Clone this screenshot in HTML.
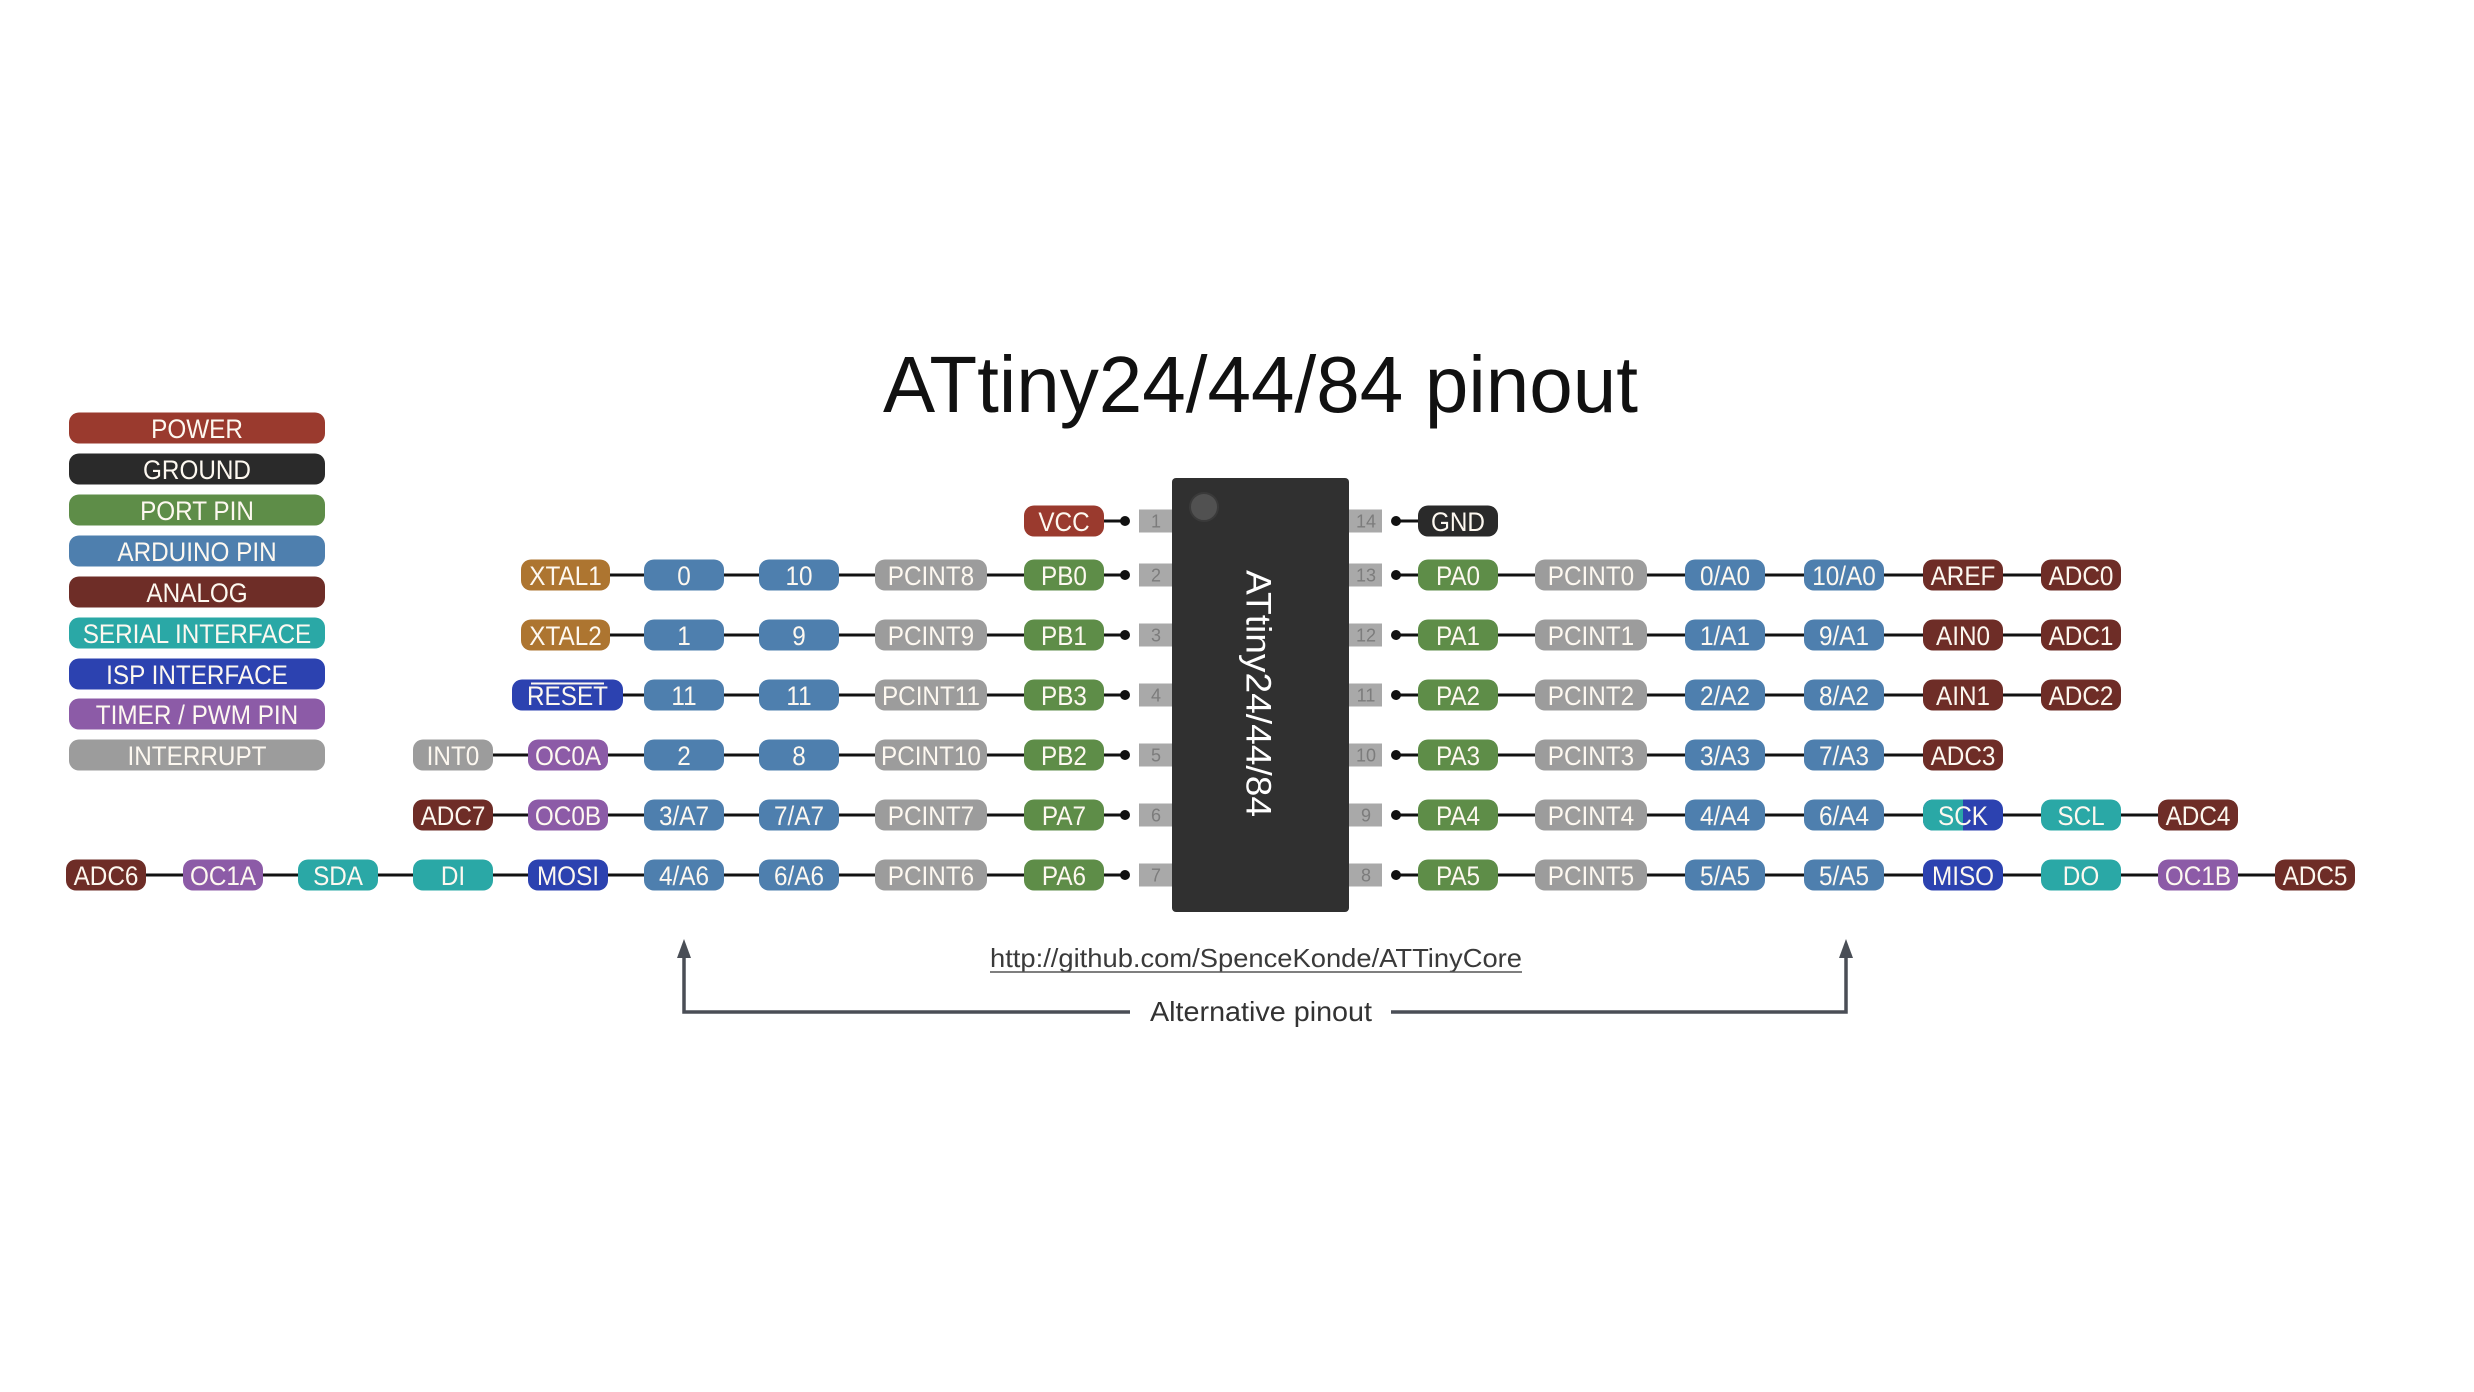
<!DOCTYPE html>
<html>
<head>
<meta charset="utf-8">
<style>
html,body{margin:0;padding:0;background:#fff;}
svg{display:block;}
.t{font-family:"Liberation Sans",Arial,sans-serif;font-size:27px;fill:#fdf8f0;text-anchor:middle;transform-box:fill-box;transform-origin:center;transform:scaleX(0.9);}
.n{font-family:"Liberation Sans",Arial,sans-serif;font-size:18px;fill:#7c7c7c;text-anchor:middle;}
.pw{fill:#9a3a2e}.gnd{fill:#2a2a2a}.port{fill:#5e8d48}.ard{fill:#4e7fae}.ana{fill:#6e2d27}
.ser{fill:#2aa8a6}.isp{fill:#2c42b0}.tim{fill:#8c5ba7}.int{fill:#9c9c9c}.xt{fill:#ad7530}
.ln{stroke:#111;stroke-width:3;}
.pb{fill:#a9a9a9}
</style>
</head>
<body>
<svg width="2474" height="1392" viewBox="0 0 2474 1392" xmlns="http://www.w3.org/2000/svg">
<defs>
<clipPath id="sckclip"><rect x="1900" y="790" width="63" height="50"/></clipPath>
</defs>

<!-- Title -->
<text x="1260.5" y="412" font-family="Liberation Sans, Arial, sans-serif" font-size="80" fill="#111" text-anchor="middle" textLength="755" lengthAdjust="spacingAndGlyphs">ATtiny24/44/84 pinout</text>

<!-- Legend -->
<rect class="pw" x="69" y="412.5" width="256" height="31" rx="10"/><text class="t" x="197" y="438">POWER</text>
<rect class="gnd" x="69" y="453.5" width="256" height="31" rx="10"/><text class="t" x="197" y="479">GROUND</text>
<rect class="port" x="69" y="494.5" width="256" height="31" rx="10"/><text class="t" x="197" y="520">PORT PIN</text>
<rect class="ard" x="69" y="535.5" width="256" height="31" rx="10"/><text class="t" x="197" y="561">ARDUINO PIN</text>
<rect class="ana" x="69" y="576.5" width="256" height="31" rx="10"/><text class="t" x="197" y="602">ANALOG</text>
<rect class="ser" x="69" y="617.5" width="256" height="31" rx="10"/><text class="t" x="197" y="643">SERIAL INTERFACE</text>
<rect class="isp" x="69" y="658.5" width="256" height="31" rx="10"/><text class="t" x="197" y="684">ISP INTERFACE</text>
<rect class="tim" x="69" y="698.5" width="256" height="31" rx="10"/><text class="t" x="197" y="724">TIMER / PWM PIN</text>
<rect class="int" x="69" y="739.5" width="256" height="31" rx="10"/><text class="t" x="197" y="765">INTERRUPT</text>

<!-- Connector lines -->
<line class="ln" x1="1064" y1="521" x2="1125" y2="521"/>
<line class="ln" x1="565" y1="575" x2="1125" y2="575"/>
<line class="ln" x1="565" y1="635" x2="1125" y2="635"/>
<line class="ln" x1="567" y1="695" x2="1125" y2="695"/>
<line class="ln" x1="453" y1="755" x2="1125" y2="755"/>
<line class="ln" x1="453" y1="815" x2="1125" y2="815"/>
<line class="ln" x1="106" y1="875" x2="1125" y2="875"/>

<line class="ln" x1="1396" y1="521" x2="1458" y2="521"/>
<line class="ln" x1="1396" y1="575" x2="2081" y2="575"/>
<line class="ln" x1="1396" y1="635" x2="2081" y2="635"/>
<line class="ln" x1="1396" y1="695" x2="2081" y2="695"/>
<line class="ln" x1="1396" y1="755" x2="1963" y2="755"/>
<line class="ln" x1="1396" y1="815" x2="2198" y2="815"/>
<line class="ln" x1="1396" y1="875" x2="2315" y2="875"/>

<!-- Dots -->
<g fill="#111">
<circle cx="1125" cy="521" r="5"/><circle cx="1125" cy="575" r="5"/><circle cx="1125" cy="635" r="5"/><circle cx="1125" cy="695" r="5"/><circle cx="1125" cy="755" r="5"/><circle cx="1125" cy="815" r="5"/><circle cx="1125" cy="875" r="5"/>
<circle cx="1396" cy="521" r="5"/><circle cx="1396" cy="575" r="5"/><circle cx="1396" cy="635" r="5"/><circle cx="1396" cy="695" r="5"/><circle cx="1396" cy="755" r="5"/><circle cx="1396" cy="815" r="5"/><circle cx="1396" cy="875" r="5"/>
</g>

<!-- Pin boxes -->
<rect class="pb" x="1139" y="509.5" width="34" height="23"/><text class="n" x="1156" y="527.5">1</text>
<rect class="pb" x="1139" y="563.5" width="34" height="23"/><text class="n" x="1156" y="581.5">2</text>
<rect class="pb" x="1139" y="623.5" width="34" height="23"/><text class="n" x="1156" y="641.5">3</text>
<rect class="pb" x="1139" y="683.5" width="34" height="23"/><text class="n" x="1156" y="701.5">4</text>
<rect class="pb" x="1139" y="743.5" width="34" height="23"/><text class="n" x="1156" y="761.5">5</text>
<rect class="pb" x="1139" y="803.5" width="34" height="23"/><text class="n" x="1156" y="821.5">6</text>
<rect class="pb" x="1139" y="863.5" width="34" height="23"/><text class="n" x="1156" y="881.5">7</text>

<rect class="pb" x="1348" y="509.5" width="34" height="23"/><text class="n" x="1366" y="527.5">14</text>
<rect class="pb" x="1348" y="563.5" width="34" height="23"/><text class="n" x="1366" y="581.5">13</text>
<rect class="pb" x="1348" y="623.5" width="34" height="23"/><text class="n" x="1366" y="641.5">12</text>
<rect class="pb" x="1348" y="683.5" width="34" height="23"/><text class="n" x="1366" y="701.5">11</text>
<rect class="pb" x="1348" y="743.5" width="34" height="23"/><text class="n" x="1366" y="761.5">10</text>
<rect class="pb" x="1348" y="803.5" width="34" height="23"/><text class="n" x="1366" y="821.5">9</text>
<rect class="pb" x="1348" y="863.5" width="34" height="23"/><text class="n" x="1366" y="881.5">8</text>

<!-- Chip -->
<rect x="1172" y="478" width="177" height="434" rx="4" fill="#303030"/>
<circle cx="1204" cy="507" r="14" fill="#515151" stroke="#3a3a3a" stroke-width="2"/>
<text transform="translate(1259,693.5) rotate(90)" x="0" y="12.5" font-family="Liberation Sans, Arial, sans-serif" font-size="35" fill="#fff" text-anchor="middle" textLength="247" lengthAdjust="spacingAndGlyphs">ATtiny24/44/84</text>

<!-- Left side pills -->
<rect class="pw" x="1024" y="505.5" width="80" height="31" rx="10"/><text class="t" x="1064" y="531">VCC</text>

<rect class="xt" x="521" y="559.5" width="89" height="31" rx="10"/><text class="t" x="565.5" y="585">XTAL1</text>
<rect class="ard" x="644" y="559.5" width="80" height="31" rx="10"/><text class="t" x="684" y="585">0</text>
<rect class="ard" x="759" y="559.5" width="80" height="31" rx="10"/><text class="t" x="799" y="585">10</text>
<rect class="int" x="875" y="559.5" width="112" height="31" rx="10"/><text class="t" x="931" y="585">PCINT8</text>
<rect class="port" x="1024" y="559.5" width="80" height="31" rx="10"/><text class="t" x="1064" y="585">PB0</text>

<rect class="xt" x="521" y="619.5" width="89" height="31" rx="10"/><text class="t" x="565.5" y="645">XTAL2</text>
<rect class="ard" x="644" y="619.5" width="80" height="31" rx="10"/><text class="t" x="684" y="645">1</text>
<rect class="ard" x="759" y="619.5" width="80" height="31" rx="10"/><text class="t" x="799" y="645">9</text>
<rect class="int" x="875" y="619.5" width="112" height="31" rx="10"/><text class="t" x="931" y="645">PCINT9</text>
<rect class="port" x="1024" y="619.5" width="80" height="31" rx="10"/><text class="t" x="1064" y="645">PB1</text>

<rect class="isp" x="512" y="679.5" width="111" height="31" rx="10"/><text class="t" x="567.5" y="705">RESET</text>
<line x1="531" y1="683.5" x2="604" y2="683.5" stroke="#fdf8f0" stroke-width="2"/>
<rect class="ard" x="644" y="679.5" width="80" height="31" rx="10"/><text class="t" x="684" y="705">11</text>
<rect class="ard" x="759" y="679.5" width="80" height="31" rx="10"/><text class="t" x="799" y="705">11</text>
<rect class="int" x="875" y="679.5" width="112" height="31" rx="10"/><text class="t" x="931" y="705">PCINT11</text>
<rect class="port" x="1024" y="679.5" width="80" height="31" rx="10"/><text class="t" x="1064" y="705">PB3</text>

<rect class="int" x="413" y="739.5" width="80" height="31" rx="10"/><text class="t" x="453" y="765">INT0</text>
<rect class="tim" x="528" y="739.5" width="80" height="31" rx="10"/><text class="t" x="568" y="765">OC0A</text>
<rect class="ard" x="644" y="739.5" width="80" height="31" rx="10"/><text class="t" x="684" y="765">2</text>
<rect class="ard" x="759" y="739.5" width="80" height="31" rx="10"/><text class="t" x="799" y="765">8</text>
<rect class="int" x="875" y="739.5" width="112" height="31" rx="10"/><text class="t" x="931" y="765">PCINT10</text>
<rect class="port" x="1024" y="739.5" width="80" height="31" rx="10"/><text class="t" x="1064" y="765">PB2</text>

<rect class="ana" x="413" y="799.5" width="80" height="31" rx="10"/><text class="t" x="453" y="825">ADC7</text>
<rect class="tim" x="528" y="799.5" width="80" height="31" rx="10"/><text class="t" x="568" y="825">OC0B</text>
<rect class="ard" x="644" y="799.5" width="80" height="31" rx="10"/><text class="t" x="684" y="825">3/A7</text>
<rect class="ard" x="759" y="799.5" width="80" height="31" rx="10"/><text class="t" x="799" y="825">7/A7</text>
<rect class="int" x="875" y="799.5" width="112" height="31" rx="10"/><text class="t" x="931" y="825">PCINT7</text>
<rect class="port" x="1024" y="799.5" width="80" height="31" rx="10"/><text class="t" x="1064" y="825">PA7</text>

<rect class="ana" x="66" y="859.5" width="80" height="31" rx="10"/><text class="t" x="106" y="885">ADC6</text>
<rect class="tim" x="183" y="859.5" width="80" height="31" rx="10"/><text class="t" x="223" y="885">OC1A</text>
<rect class="ser" x="298" y="859.5" width="80" height="31" rx="10"/><text class="t" x="338" y="885">SDA</text>
<rect class="ser" x="413" y="859.5" width="80" height="31" rx="10"/><text class="t" x="453" y="885">DI</text>
<rect class="isp" x="528" y="859.5" width="80" height="31" rx="10"/><text class="t" x="568" y="885">MOSI</text>
<rect class="ard" x="644" y="859.5" width="80" height="31" rx="10"/><text class="t" x="684" y="885">4/A6</text>
<rect class="ard" x="759" y="859.5" width="80" height="31" rx="10"/><text class="t" x="799" y="885">6/A6</text>
<rect class="int" x="875" y="859.5" width="112" height="31" rx="10"/><text class="t" x="931" y="885">PCINT6</text>
<rect class="port" x="1024" y="859.5" width="80" height="31" rx="10"/><text class="t" x="1064" y="885">PA6</text>

<!-- Right side pills -->
<rect class="gnd" x="1418" y="505.5" width="80" height="31" rx="10"/><text class="t" x="1458" y="531">GND</text>

<rect class="port" x="1418" y="559.5" width="80" height="31" rx="10"/><text class="t" x="1458" y="585">PA0</text>
<rect class="int" x="1535" y="559.5" width="112" height="31" rx="10"/><text class="t" x="1591" y="585">PCINT0</text>
<rect class="ard" x="1685" y="559.5" width="80" height="31" rx="10"/><text class="t" x="1725" y="585">0/A0</text>
<rect class="ard" x="1804" y="559.5" width="80" height="31" rx="10"/><text class="t" x="1844" y="585">10/A0</text>
<rect class="ana" x="1923" y="559.5" width="80" height="31" rx="10"/><text class="t" x="1963" y="585">AREF</text>
<rect class="ana" x="2041" y="559.5" width="80" height="31" rx="10"/><text class="t" x="2081" y="585">ADC0</text>

<rect class="port" x="1418" y="619.5" width="80" height="31" rx="10"/><text class="t" x="1458" y="645">PA1</text>
<rect class="int" x="1535" y="619.5" width="112" height="31" rx="10"/><text class="t" x="1591" y="645">PCINT1</text>
<rect class="ard" x="1685" y="619.5" width="80" height="31" rx="10"/><text class="t" x="1725" y="645">1/A1</text>
<rect class="ard" x="1804" y="619.5" width="80" height="31" rx="10"/><text class="t" x="1844" y="645">9/A1</text>
<rect class="ana" x="1923" y="619.5" width="80" height="31" rx="10"/><text class="t" x="1963" y="645">AIN0</text>
<rect class="ana" x="2041" y="619.5" width="80" height="31" rx="10"/><text class="t" x="2081" y="645">ADC1</text>

<rect class="port" x="1418" y="679.5" width="80" height="31" rx="10"/><text class="t" x="1458" y="705">PA2</text>
<rect class="int" x="1535" y="679.5" width="112" height="31" rx="10"/><text class="t" x="1591" y="705">PCINT2</text>
<rect class="ard" x="1685" y="679.5" width="80" height="31" rx="10"/><text class="t" x="1725" y="705">2/A2</text>
<rect class="ard" x="1804" y="679.5" width="80" height="31" rx="10"/><text class="t" x="1844" y="705">8/A2</text>
<rect class="ana" x="1923" y="679.5" width="80" height="31" rx="10"/><text class="t" x="1963" y="705">AIN1</text>
<rect class="ana" x="2041" y="679.5" width="80" height="31" rx="10"/><text class="t" x="2081" y="705">ADC2</text>

<rect class="port" x="1418" y="739.5" width="80" height="31" rx="10"/><text class="t" x="1458" y="765">PA3</text>
<rect class="int" x="1535" y="739.5" width="112" height="31" rx="10"/><text class="t" x="1591" y="765">PCINT3</text>
<rect class="ard" x="1685" y="739.5" width="80" height="31" rx="10"/><text class="t" x="1725" y="765">3/A3</text>
<rect class="ard" x="1804" y="739.5" width="80" height="31" rx="10"/><text class="t" x="1844" y="765">7/A3</text>
<rect class="ana" x="1923" y="739.5" width="80" height="31" rx="10"/><text class="t" x="1963" y="765">ADC3</text>

<rect class="port" x="1418" y="799.5" width="80" height="31" rx="10"/><text class="t" x="1458" y="825">PA4</text>
<rect class="int" x="1535" y="799.5" width="112" height="31" rx="10"/><text class="t" x="1591" y="825">PCINT4</text>
<rect class="ard" x="1685" y="799.5" width="80" height="31" rx="10"/><text class="t" x="1725" y="825">4/A4</text>
<rect class="ard" x="1804" y="799.5" width="80" height="31" rx="10"/><text class="t" x="1844" y="825">6/A4</text>
<rect class="isp" x="1923" y="799.5" width="80" height="31" rx="10"/>
<rect class="ser" x="1923" y="799.5" width="80" height="31" rx="10" clip-path="url(#sckclip)"/>
<text class="t" x="1963" y="825">SCK</text>
<rect class="ser" x="2041" y="799.5" width="80" height="31" rx="10"/><text class="t" x="2081" y="825">SCL</text>
<rect class="ana" x="2158" y="799.5" width="80" height="31" rx="10"/><text class="t" x="2198" y="825">ADC4</text>

<rect class="port" x="1418" y="859.5" width="80" height="31" rx="10"/><text class="t" x="1458" y="885">PA5</text>
<rect class="int" x="1535" y="859.5" width="112" height="31" rx="10"/><text class="t" x="1591" y="885">PCINT5</text>
<rect class="ard" x="1685" y="859.5" width="80" height="31" rx="10"/><text class="t" x="1725" y="885">5/A5</text>
<rect class="ard" x="1804" y="859.5" width="80" height="31" rx="10"/><text class="t" x="1844" y="885">5/A5</text>
<rect class="isp" x="1923" y="859.5" width="80" height="31" rx="10"/><text class="t" x="1963" y="885">MISO</text>
<rect class="ser" x="2041" y="859.5" width="80" height="31" rx="10"/><text class="t" x="2081" y="885">DO</text>
<rect class="tim" x="2158" y="859.5" width="80" height="31" rx="10"/><text class="t" x="2198" y="885">OC1B</text>
<rect class="ana" x="2275" y="859.5" width="80" height="31" rx="10"/><text class="t" x="2315" y="885">ADC5</text>

<!-- Footer -->
<text x="990" y="967" font-family="Liberation Sans, Arial, sans-serif" font-size="26" fill="#3a3a3a" textLength="532" lengthAdjust="spacingAndGlyphs">http://github.com/SpenceKonde/ATTinyCore</text>
<line x1="990" y1="972" x2="1522" y2="972" stroke="#555" stroke-width="1.5"/>

<g stroke="#4a4e56" stroke-width="3.5" fill="none">
<polyline points="684,955 684,1012 1130,1012"/>
<polyline points="1391,1012 1846,1012 1846,955"/>
</g>
<polygon points="684,939 677,958 691,958" fill="#4a4e56"/>
<polygon points="1846,939 1839,958 1853,958" fill="#4a4e56"/>
<text x="1150" y="1021" font-family="Liberation Sans, Arial, sans-serif" font-size="28" fill="#333" textLength="222" lengthAdjust="spacingAndGlyphs">Alternative pinout</text>
</svg>
</body>
</html>
